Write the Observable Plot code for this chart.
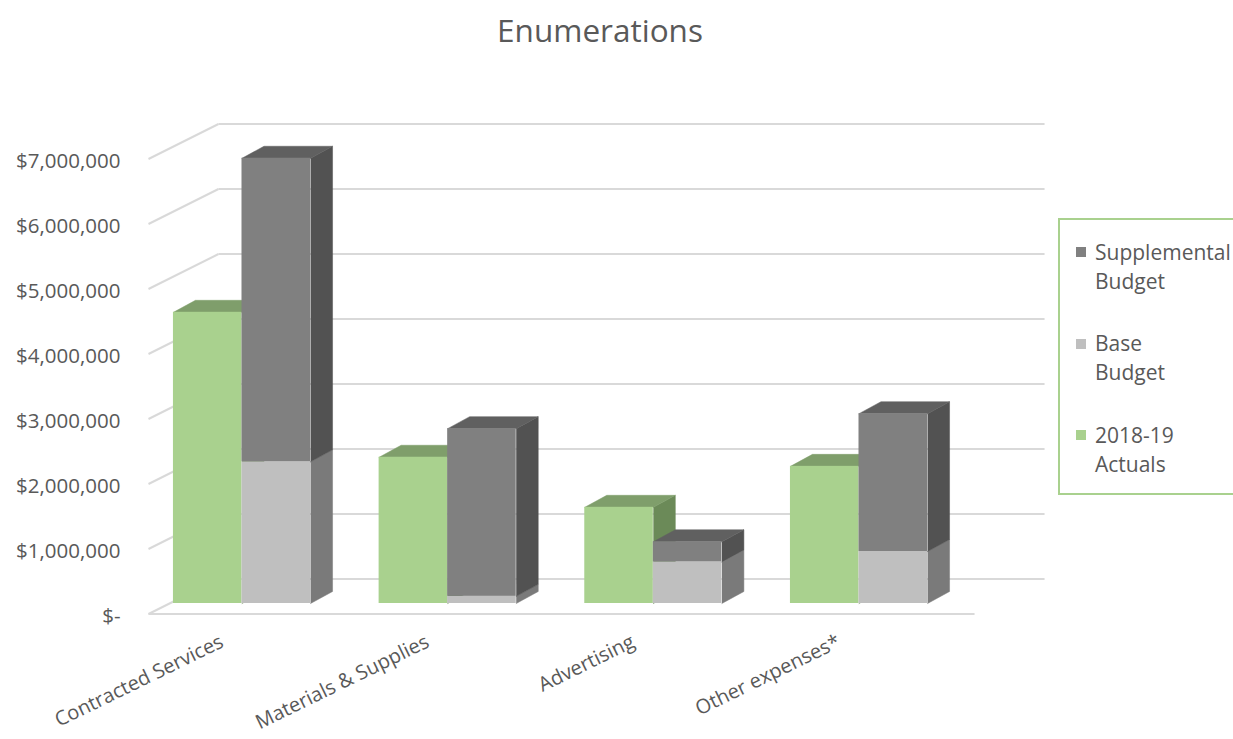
<!DOCTYPE html>
<html>
<head>
<meta charset="utf-8">
<script src="https://cdn.jsdelivr.net/npm/d3@7"></script>
<script src="https://cdn.jsdelivr.net/npm/@observablehq/plot@0.6"></script>
<style>
  html, body { margin: 0; padding: 0; overflow: hidden; background: #fff; }
  body { font-family: "Open Sans", sans-serif; color: #595959; }
  #page { position: relative; width: 1233px; height: 739px; }
  #title { height: 70px; position: relative; }
  #title span { position: absolute; left: 0; width: 1200px; top: 12px; text-align: center; font-size: 31.5px; line-height: 36px; }
  #legend { position: absolute; left: 1058px; top: 218px; width: 200px; height: 277px; border: 2px solid #a9d18e; box-sizing: border-box; }
  .swatch { position: absolute; left: 16px; width: 10px; height: 10px; }
  .label { position: absolute; left: 35px; font-size: 21px; line-height: 29px; white-space: nowrap; }
</style>
</head>
<body>
<div id="page">
  <div id="title"><span>Enumerations</span></div>
  <div id="chart"></div>
  <div id="legend"></div>
</div>
<script>
// Spending categories and the three stacked series (US dollars)
const categories = ["Contracted Services", "Materials & Supplies", "Advertising", "Other expenses*"];
const actuals = [4480000, 2250000, 1480000, 2110000];       // 2018-19 Actuals
const baseBudget = [2180000, 110000, 640000, 800000];       // Base Budget
const supplemental = [4670000, 2580000, 310000, 2120000];   // Supplemental Budget
const yTicks = [0, 1000000, 2000000, 3000000, 4000000, 5000000, 6000000, 7000000];

// Screen geometry of the pseudo-3D box
const PX_PER_CAT = 205.67;        // pixels between category centres
const PX_PER_MILLION = 65;        // pixels per $1,000,000
const offset = (px, py) => ({x: px / PX_PER_CAT, y: (-py / PX_PER_MILLION) * 1e6});
const BAR_DEPTH = offset(22, -12);  // front face -> back face of a bar
const WALL = offset(49, -24.5);     // bar plane -> back wall
const FLOOR = offset(-21, 10.5);    // bar plane -> front edge of the floor
const X_LEFT = -0.3525, X_RIGHT = 3.664;  // floor extent, in category units
const BAR_W = 1 / 3;

const fmt = v => v === 0 ? "$-" : "$" + d3.format(",")(v);

// Series styling: front, side and top shades
const series = [
  {key: "actuals", label: ["2018-19", "Actuals"], front: "#a9d18e", side: "#6b8a58", top: "#7f9e6b"},
  {key: "base", label: ["Base", "Budget"], front: "#bfbfbf", side: "#7a7a7a", top: "#9a9a9a"},
  {key: "supp", label: ["Supplemental", "Budget"], front: "#808080", side: "#525252", top: "#606060"}
];

// Segments: actuals stand alone, base + supplemental are stacked
const segments = [];
categories.forEach((c, i) => {
  segments.push({s: "actuals", x1: i - BAR_W, x2: i, y1: 0, y2: actuals[i], topVisible: true});
  segments.push({s: "base", x1: i, x2: i + BAR_W, y1: 0, y2: baseBudget[i], topVisible: false});
  segments.push({s: "supp", x1: i, x2: i + BAR_W, y1: baseBudget[i], y2: baseBudget[i] + supplemental[i], topVisible: true});
});

function sidePolys(segs) {
  const pts = [];
  segs.forEach((g, k) => {
    const id = g.s + k;
    pts.push({id, x: g.x2, y: g.y1}, {id, x: g.x2 + BAR_DEPTH.x, y: g.y1 + BAR_DEPTH.y},
             {id, x: g.x2 + BAR_DEPTH.x, y: g.y2 + BAR_DEPTH.y}, {id, x: g.x2, y: g.y2});
  });
  return pts;
}
function topPolys(segs) {
  const pts = [];
  segs.filter(g => g.topVisible).forEach((g, k) => {
    const id = g.s + "t" + k;
    pts.push({id, x: g.x1, y: g.y2}, {id, x: g.x1 + BAR_DEPTH.x, y: g.y2 + BAR_DEPTH.y},
             {id, x: g.x2 + BAR_DEPTH.x, y: g.y2 + BAR_DEPTH.y}, {id, x: g.x2, y: g.y2});
  });
  return pts;
}

const barMarks = [];
for (const s of series) {
  const segs = segments.filter(g => g.s === s.key);
  barMarks.push(
    Plot.line(sidePolys(segs), {x: "x", y: "y", z: "id", fill: s.side, stroke: s.side, strokeWidth: 0.5}),
    Plot.line(topPolys(segs), {x: "x", y: "y", z: "id", fill: s.top, stroke: s.top, strokeWidth: 0.5}),
    Plot.rect(segs, {x1: "x1", x2: "x2", y1: "y1", y2: "y2", fill: s.front})
  );
}

const gridStyle = {stroke: "#d9d9d9", strokeWidth: 2};

const chart = Plot.plot({
  width: 1233,
  height: 669,
  x: {domain: [0, 3], range: [241.5, 858.5], axis: null},
  y: {domain: [0, 1e6], range: [533, 468], axis: null},
  style: {fontFamily: "Open Sans", fontSize: "20.5px", color: "#595959", background: "#fff"},
  marks: [
    // back wall gridlines
    Plot.link(yTicks, {x1: X_LEFT + WALL.x, x2: X_RIGHT + WALL.x, y1: d => d + WALL.y, y2: d => d + WALL.y, ...gridStyle}),
    // side wall gridlines
    Plot.link(yTicks, {x1: X_LEFT + FLOOR.x, y1: d => d + FLOOR.y, x2: X_LEFT + WALL.x, y2: d => d + WALL.y, ...gridStyle}),
    // front edge of the floor
    Plot.link([0], {x1: X_LEFT + FLOOR.x, x2: X_RIGHT + FLOOR.x, y1: d => d + FLOOR.y, y2: d => d + FLOOR.y, ...gridStyle}),
    ...barMarks,
    // value axis labels
    Plot.text(yTicks, {x: X_LEFT, y: d => d, text: fmt, textAnchor: "end", dx: -49, dy: 12.5, fill: "#595959"}),
    // category labels
    Plot.text(categories, {x: (d, i) => i, y: 0, text: d => d, rotate: -26, textAnchor: "end", dx: -20, dy: 37, fontSize: 20, fill: "#595959"})
  ]
});
document.getElementById("chart").appendChild(chart);

// Legend, listed top to bottom as the stack reads
const legend = document.getElementById("legend");
[...series].reverse().forEach((s, k) => {
  const top = 17.5 + k * 91.5;
  const sw = document.createElement("div");
  sw.className = "swatch";
  sw.style.top = (top + 9.5) + "px";
  sw.style.background = s.front;
  legend.appendChild(sw);
  const lb = document.createElement("div");
  lb.className = "label";
  lb.style.top = top + "px";
  lb.innerHTML = s.label.join("<br>");
  legend.appendChild(lb);
});
</script>
</body>
</html>
